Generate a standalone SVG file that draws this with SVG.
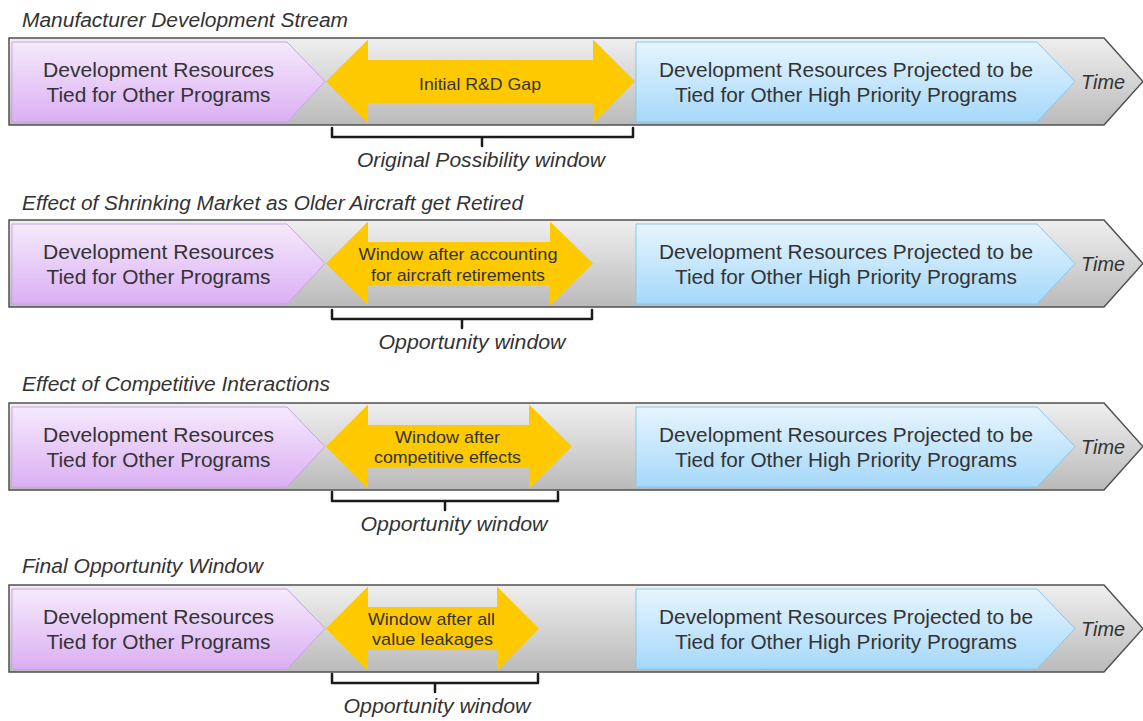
<svg xmlns="http://www.w3.org/2000/svg" width="1143" height="721" viewBox="0 0 1143 721">
<defs>
<linearGradient id="gBand" x1="0" y1="0" x2="0" y2="1"><stop offset="0" stop-color="#efefef"/><stop offset="1" stop-color="#bababa"/></linearGradient>
<linearGradient id="gPurple" x1="0" y1="0" x2="0" y2="1"><stop offset="0" stop-color="#f5eafc"/><stop offset="1" stop-color="#dbaff3"/></linearGradient>
<linearGradient id="gBlue" x1="0" y1="0" x2="0" y2="1"><stop offset="0" stop-color="#e7f5fe"/><stop offset="1" stop-color="#a5d8fa"/></linearGradient>
<path id="band" d="M9,0 H1104 L1143,43.5 L1104,87 H9 Z"/>
<path id="purple" d="M12,4 H287 L325,43.5 L287,84 H12 Z"/>
<path id="blue" d="M636,4 H1037 L1075,43.5 L1037,84 H636 Z"/>
</defs>
<style>
.band{fill:url(#gBand);stroke:#505050;stroke-width:1.5}
.purple{fill:url(#gPurple);stroke:#c8a2ea;stroke-width:1}
.blue{fill:url(#gBlue);stroke:#86c6f2;stroke-width:1}
.yel{fill:#ffc900}
text{font-family:"Liberation Sans",Arial,sans-serif;fill:#333}
.t{font-size:20px}
.title{font-size:20px;font-style:italic}
.it{font-size:20px;font-style:italic}
.y{font-size:17px}
.br{fill:none;stroke:#1a1a1a;stroke-width:2.5;stroke-linejoin:round;stroke-linecap:round}
</style>

<!-- Band 1 -->
<text class="title" x="22" y="27" textLength="326" lengthAdjust="spacingAndGlyphs">Manufacturer Development Stream</text>
<g id="band1" transform="translate(0,38)">
<use href="#band" class="band"/>
<g id="band1-left"><use href="#purple" class="purple"/>
<text class="t" x="158.5" y="38.5" text-anchor="middle" textLength="231" lengthAdjust="spacingAndGlyphs">Development Resources</text>
<text class="t" x="158.5" y="63.5" text-anchor="middle" textLength="224" lengthAdjust="spacingAndGlyphs">Tied for Other Programs</text></g>
<g id="band1-gap"><polygon class="yel" points="326,43.5 368,1.5 368,22 593,22 593,1.5 635,43.5 593,85.5 593,65 368,65 368,85.5"/>
<text class="y" x="480" y="51.5" text-anchor="middle" textLength="122" lengthAdjust="spacingAndGlyphs">Initial R&amp;D Gap</text></g>
<g id="band1-right"><use href="#blue" class="blue"/>
<text class="t" x="846" y="38.5" text-anchor="middle" textLength="374" lengthAdjust="spacingAndGlyphs">Development Resources Projected to be</text>
<text class="t" x="846" y="63.5" text-anchor="middle" textLength="342" lengthAdjust="spacingAndGlyphs">Tied for Other High Priority Programs</text></g>
<text class="it" x="1081" y="51" textLength="44" lengthAdjust="spacingAndGlyphs">Time</text>
</g>

<!-- Band 2 -->
<text class="title" x="22" y="210" textLength="501" lengthAdjust="spacingAndGlyphs">Effect of Shrinking Market as Older Aircraft get Retired</text>
<g id="band2" transform="translate(0,220)">
<use href="#band" class="band"/>
<g id="band2-left"><use href="#purple" class="purple"/>
<text class="t" x="158.5" y="38.5" text-anchor="middle" textLength="231" lengthAdjust="spacingAndGlyphs">Development Resources</text>
<text class="t" x="158.5" y="63.5" text-anchor="middle" textLength="224" lengthAdjust="spacingAndGlyphs">Tied for Other Programs</text></g>
<g id="band2-gap"><polygon class="yel" points="326,43.5 368,1.5 368,22 550,22 550,1.5 593,43.5 550,85.5 550,65 368,65 368,85.5"/>
<text class="y" x="458" y="40" text-anchor="middle" textLength="199" lengthAdjust="spacingAndGlyphs">Window after accounting</text>
<text class="y" x="458" y="61" text-anchor="middle" textLength="174" lengthAdjust="spacingAndGlyphs">for aircraft retirements</text></g>
<g id="band2-right"><use href="#blue" class="blue"/>
<text class="t" x="846" y="38.5" text-anchor="middle" textLength="374" lengthAdjust="spacingAndGlyphs">Development Resources Projected to be</text>
<text class="t" x="846" y="63.5" text-anchor="middle" textLength="342" lengthAdjust="spacingAndGlyphs">Tied for Other High Priority Programs</text></g>
<text class="it" x="1081" y="51" textLength="44" lengthAdjust="spacingAndGlyphs">Time</text>
</g>

<!-- Band 3 -->
<text class="title" x="22" y="391" textLength="308" lengthAdjust="spacingAndGlyphs">Effect of Competitive Interactions</text>
<g id="band3" transform="translate(0,403)">
<use href="#band" class="band"/>
<g id="band3-left"><use href="#purple" class="purple"/>
<text class="t" x="158.5" y="38.5" text-anchor="middle" textLength="231" lengthAdjust="spacingAndGlyphs">Development Resources</text>
<text class="t" x="158.5" y="63.5" text-anchor="middle" textLength="224" lengthAdjust="spacingAndGlyphs">Tied for Other Programs</text></g>
<g id="band3-gap"><polygon class="yel" points="326,43.5 368,1.5 368,22 529,22 529,1.5 572,43.5 529,85.5 529,65 368,65 368,85.5"/>
<text class="y" x="447.5" y="40" text-anchor="middle" textLength="105" lengthAdjust="spacingAndGlyphs">Window after</text>
<text class="y" x="447.5" y="60" text-anchor="middle" textLength="147" lengthAdjust="spacingAndGlyphs">competitive effects</text></g>
<g id="band3-right"><use href="#blue" class="blue"/>
<text class="t" x="846" y="38.5" text-anchor="middle" textLength="374" lengthAdjust="spacingAndGlyphs">Development Resources Projected to be</text>
<text class="t" x="846" y="63.5" text-anchor="middle" textLength="342" lengthAdjust="spacingAndGlyphs">Tied for Other High Priority Programs</text></g>
<text class="it" x="1081" y="51" textLength="44" lengthAdjust="spacingAndGlyphs">Time</text>
</g>

<!-- Band 4 -->
<text class="title" x="22" y="573" textLength="241" lengthAdjust="spacingAndGlyphs">Final Opportunity Window</text>
<g id="band4" transform="translate(0,585)">
<use href="#band" class="band"/>
<g id="band4-left"><use href="#purple" class="purple"/>
<text class="t" x="158.5" y="38.5" text-anchor="middle" textLength="231" lengthAdjust="spacingAndGlyphs">Development Resources</text>
<text class="t" x="158.5" y="63.5" text-anchor="middle" textLength="224" lengthAdjust="spacingAndGlyphs">Tied for Other Programs</text></g>
<g id="band4-gap"><polygon class="yel" points="326,43.5 368,1.5 368,22 497,22 497,1.5 539,43.5 497,85.5 497,65 368,65 368,85.5"/>
<text class="y" x="431.5" y="40" text-anchor="middle" textLength="127" lengthAdjust="spacingAndGlyphs">Window after all</text>
<text class="y" x="432.5" y="60" text-anchor="middle" textLength="121" lengthAdjust="spacingAndGlyphs">value leakages</text></g>
<g id="band4-right"><use href="#blue" class="blue"/>
<text class="t" x="846" y="38.5" text-anchor="middle" textLength="374" lengthAdjust="spacingAndGlyphs">Development Resources Projected to be</text>
<text class="t" x="846" y="63.5" text-anchor="middle" textLength="342" lengthAdjust="spacingAndGlyphs">Tied for Other High Priority Programs</text></g>
<text class="it" x="1081" y="51" textLength="44" lengthAdjust="spacingAndGlyphs">Time</text>
</g>

<!-- Brackets -->
<g id="connectors">
<path class="br" d="M332,128 V137 H633 V128 M482,137 V146"/>
<path class="br" d="M332,310 V319 H592 V310 M462,319 V328"/>
<path class="br" d="M332,492 V501 H558 V492 M445,501 V510"/>
<path class="br" d="M332,674 V683 H538 V674 M435,683 V692"/>
</g>
<g id="labels">
<text class="it" x="481" y="167" text-anchor="middle" textLength="248" lengthAdjust="spacingAndGlyphs">Original Possibility window</text>
<text class="it" x="472" y="349" text-anchor="middle" textLength="187" lengthAdjust="spacingAndGlyphs">Opportunity window</text>
<text class="it" x="454" y="531" text-anchor="middle" textLength="187" lengthAdjust="spacingAndGlyphs">Opportunity window</text>
<text class="it" x="437" y="713" text-anchor="middle" textLength="187" lengthAdjust="spacingAndGlyphs">Opportunity window</text>
</g>
</svg>
